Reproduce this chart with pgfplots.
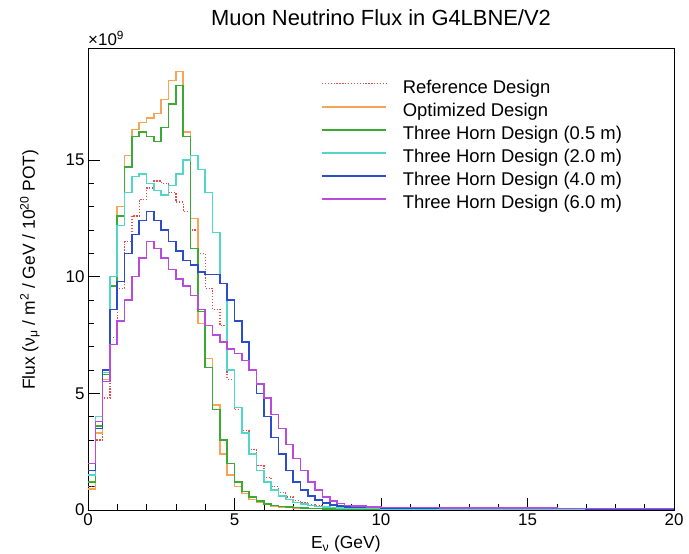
\documentclass[border=0pt]{standalone}
\usepackage{fontspec}
\setmainfont{Liberation Sans}
\usepackage{pgfplots}
\pgfplotsset{compat=1.18}
\usepackage{pgfplotstable}

\definecolor{colref}{RGB}{228,75,75}
\definecolor{colopt}{RGB}{245,165,85}
\definecolor{colgrn}{RGB}{60,170,50}
\definecolor{colcyn}{RGB}{80,215,200}
\definecolor{colblu}{RGB}{45,75,205}
\definecolor{colpur}{RGB}{185,75,220}

\pgfplotstableread{
E     ref   opt   g05   c20   b40   p60
0.00  1.0   0.9   1.2   1.5   1.7   2.0
0.25  3.0   3.3   3.6   4.0   3.5   3.8
0.50  4.8   5.6   5.8   5.9   6.0   5.5
0.75  7.4   10.0  9.6   10.0  8.6   7.1
1.00  9.5   13.0  12.6  12.2  9.8   8.1
1.25  11.5  15.2  14.7  13.6  11.0  9.0
1.50  12.6  16.3  16.0  14.3  11.8  10.0
1.75  13.3  16.6  16.2  14.4  12.4  10.8
2.00  13.8  16.8  16.0  14.0  12.8  11.5
2.25  14.1  17.0  15.8  13.7  12.4  11.2
2.50  14.0  17.6  16.4  13.5  12.0  10.8
2.75  13.6  18.4  17.4  13.9  11.5  10.3
3.00  13.2  18.8  18.2  14.4  11.1  9.9
3.25  12.8  16.2  16.0  15.0  10.7  9.6
3.50  12.0  12.5  11.2  15.2  10.5  9.2
3.75  11.0  8.0   8.5   14.6  10.2  8.6
4.00  9.5   6.5   6.1   13.6  10.1  7.9
4.25  8.6   4.5   4.3   11.9  10.1  7.5
4.50  7.9   2.4   3.0   9.7   9.7   7.2
4.75  5.6   1.5   2.0   6.0   9.0   6.9
5.00  4.3   1.0   1.2   4.4   8.1   6.7
5.25  3.4   0.7   0.8   3.3   7.2   6.4
5.50  2.6   0.45  0.55  2.4   6.0   6.0
5.75  1.9   0.32  0.38  1.7   5.0   5.4
6.00  1.4   0.24  0.27  1.2   4.0   4.8
6.25  1.0   0.18  0.20  0.85  3.1   4.1
6.50  0.75  0.14  0.15  0.60  2.4   3.5
6.75  0.55  0.11  0.12  0.45  1.7   2.8
7.00  0.40  0.09  0.10  0.33  1.2   2.2
7.25  0.30  0.08  0.08  0.25  0.85  1.7
7.50  0.22  0.07  0.07  0.19  0.60  1.2
7.75  0.17  0.06  0.06  0.15  0.42  0.85
8.00  0.14  0.05  0.05  0.12  0.30  0.55
8.25  0.12  0.05  0.05  0.10  0.22  0.38
8.50  0.10  0.04  0.04  0.09  0.17  0.28
8.75  0.09  0.04  0.04  0.08  0.14  0.20
9.00  0.08  0.04  0.04  0.07  0.12  0.16
9.50  0.07  0.03  0.03  0.06  0.10  0.13
10.0  0.06  0.03  0.03  0.05  0.09  0.11
11.0  0.05  0.03  0.03  0.05  0.08  0.10
12.0  0.05  0.02  0.02  0.04  0.07  0.09
13.0  0.04  0.02  0.02  0.04  0.07  0.09
14.0  0.04  0.02  0.02  0.04  0.06  0.08
15.0  0.04  0.02  0.02  0.03  0.06  0.08
16.0  0.03  0.02  0.02  0.03  0.06  0.07
17.0  0.03  0.02  0.02  0.03  0.05  0.07
18.0  0.03  0.02  0.02  0.03  0.05  0.07
19.0  0.03  0.02  0.02  0.03  0.05  0.06
20.0  0.03  0.02  0.02  0.03  0.05  0.06
}\flux

\begin{document}
\begin{tikzpicture}
\useasboundingbox (-88bp,-44bp) rectangle (601bp,510bp);
\begin{axis}[
  name=ax,
  scale only axis, width=586bp, height=462bp,
  xmin=0, xmax=20, ymin=0, ymax=19.8,
  xtick={0,5,10,15,20}, ytick={0,5,10,15},
  minor x tick num=4, minor y tick num=4,
  tick pos=left, tick align=inside,
  major tick length=12bp, minor tick length=6bp,
  every tick/.style={black, line width=0.5bp},
  axis line style={line width=0.6bp},
  ticklabel style={font=\fontsize{17}{17}\selectfont},
  /pgf/number format/assume math mode=true,
  xlabel={E\textsubscript{ν} (GeV)},
  ylabel={Flux (ν\textsubscript{μ} / m\textsuperscript{2} / GeV / 10\textsuperscript{20} POT)},
  label style={font=\fontsize{17.5}{17.5}\selectfont},
  xlabel style={at={(axis description cs:0.44,-0.074)}, anchor=center},
  ylabel style={at={(axis description cs:-0.099,0.52)}, anchor=center},
  legend style={at={(rel axis cs:0.3925,0.935)}, anchor=north west,
    draw=none, fill=none, font=\fontsize{18.5}{20}\selectfont,
    row sep=6bp, nodes={inner sep=0pt, text height=13bp, text depth=4bp},
    /tikz/every odd column/.append style={column sep=16bp}},
  legend cell align=left,
  legend image code/.code={\draw[#1] (0bp,5bp) -- (64bp,5bp);},
]
\addplot[const plot mark left, color=colref, line width=1.4bp, dash pattern=on 1.3bp off 1.6bp] table[x=E, y=ref] {\flux};
\addlegendentry{Reference Design}
\addplot[const plot mark left, color=colopt, line width=1.6bp] table[x=E, y=opt] {\flux};
\addlegendentry{Optimized Design}
\addplot[const plot mark left, color=colgrn, line width=1.6bp] table[x=E, y=g05] {\flux};
\addlegendentry{Three Horn Design (0.5 m)}
\addplot[const plot mark left, color=colcyn, line width=1.6bp] table[x=E, y=c20] {\flux};
\addlegendentry{Three Horn Design (2.0 m)}
\addplot[const plot mark left, color=colblu, line width=1.6bp] table[x=E, y=b40] {\flux};
\addlegendentry{Three Horn Design (4.0 m)}
\addplot[const plot mark left, color=colpur, line width=1.6bp] table[x=E, y=p60] {\flux};
\addlegendentry{Three Horn Design (6.0 m)}
\end{axis}
\node[anchor=south west, inner sep=0pt, font=\fontsize{17}{17}\selectfont] at ([yshift=2bp]ax.north west) {×10\textsuperscript{9}};
\node[anchor=base, inner sep=0pt, font=\fontsize{22}{22}\selectfont] at ([yshift=22bp]ax.north) {Muon Neutrino Flux in G4LBNE/V2};
\end{tikzpicture}
\end{document}
